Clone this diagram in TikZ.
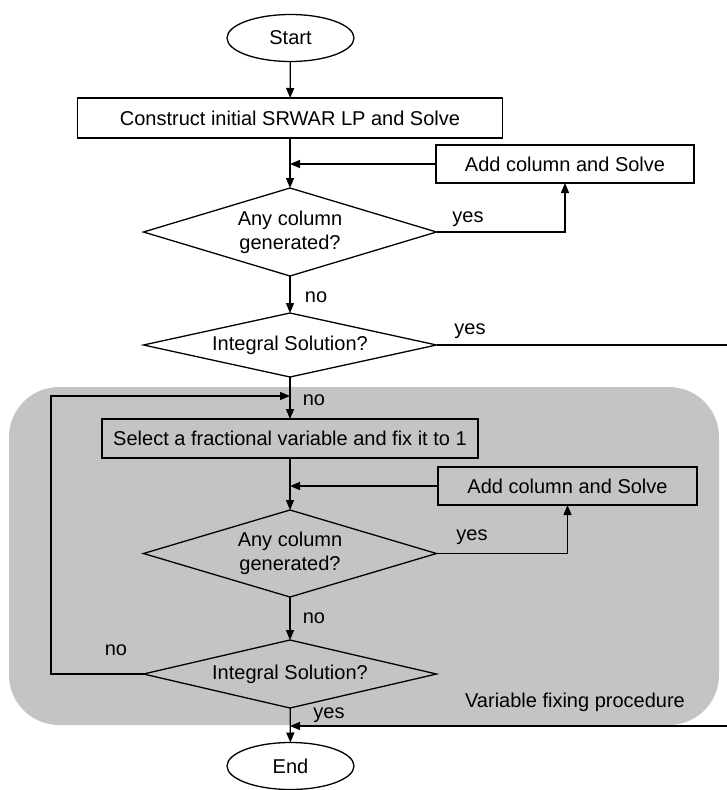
\documentclass[tikz,border=0pt]{standalone}
\usepackage{fontspec}
\setmainfont{Liberation Sans}
\usetikzlibrary{shapes.geometric,arrows.meta}
\definecolor{bggray}{gray}{0.77}
\begin{document}
\begin{tikzpicture}[x=1pt,y=-1pt,
  every node/.style={font=\fontsize{20}{24}\selectfont, inner sep=0pt, outer sep=0pt},
  proc/.style={draw, rectangle, line width=1.3pt, minimum height=38pt},
  dec/.style={draw, diamond, shape aspect=4, line width=1.3pt, minimum width=293pt, align=center},
  term/.style={draw, ellipse, line width=1.3pt, minimum width=127pt, minimum height=47pt},
  arr/.style={line width=1.3pt, -{Triangle[length=10pt,width=8pt]}},
  ln/.style={line width=1.3pt}]
\useasboundingbox (0,0) rectangle (727,790);
\fill[bggray, rounded corners=50pt] (9,387) rectangle (719,725);

\node[term] (start) at (290.5,38) {Start};
\node[proc, minimum width=425pt, minimum height=40pt] (b1) at (290,118) {Construct initial SRWAR LP and Solve};
\node[proc, minimum width=258pt] (b2) at (565,164) {Add column and Solve};
\node[dec, minimum height=88pt] (d1) at (290,232) {Any column\\generated?};
\node[dec, minimum height=64pt] (d2) at (290,345) {Integral Solution?};
\node[proc, minimum width=376pt, minimum height=39pt] (b3) at (290,438.5) {Select a fractional variable and fix it to 1};
\node[proc, minimum width=259pt] (b4) at (567.5,486) {Add column and Solve};
\node[dec, minimum height=87pt] (d3) at (290,553.5) {Any column\\generated?};
\node[dec, minimum height=68pt] (d4) at (290,674) {Integral Solution?};
\node[term] (end) at (290.5,766) {End};

\draw[arr] (start) -- (b1);
\draw[arr] (b1) -- (d1);
\coordinate (j1) at (b2.west -| d1.north);
\draw[arr] (b2.west) -- (j1);
\draw[arr] (d1.east) -| (b2.south);
\node (y1) at (468,219) {yes};
\draw[arr] (d1) -- (d2);
\node (n1) at (316,297) {no};
\coordinate (r1) at (727,345);
\draw[ln] (d2.east) -- (r1);
\node (y2) at (470,331) {yes};
\draw[arr] (d2) -- (b3);
\node (n2) at (314,400) {no};
\coordinate (lc) at (51,396);
\coordinate (j2) at (290,396);
\draw[arr] (d4.west) -| (lc) -- (j2);
\node (n3) at (116,650) {no};
\draw[arr] (b3) -- (d3);
\coordinate (j3) at (b4.west -| d3.north);
\draw[arr] (b4.west) -- (j3);
\draw[arr] (d3.east) -| (b4.south);
\node (y3) at (472,537) {yes};
\draw[arr] (d3) -- (d4);
\node (n4) at (314,618) {no};
\draw[arr] (d4) -- (end);
\node (y4) at (329,715) {yes};
\coordinate (r2) at (727,726);
\coordinate (j4) at (290,726);
\draw[arr] (r2) -- (j4);
\node (vf) at (575,702) {Variable fixing procedure};
\end{tikzpicture}
\end{document}
